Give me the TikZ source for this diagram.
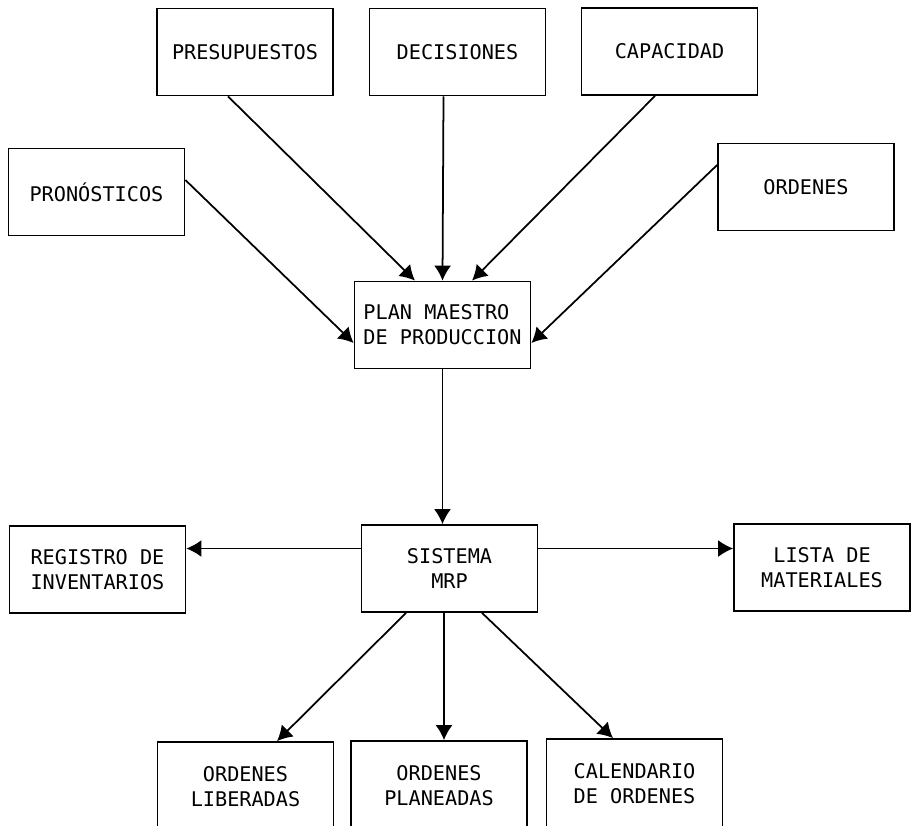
\documentclass[tikz,border=0pt]{standalone}
\usepackage{fontspec}
\newfontfamily\boxfont{DejaVu Sans Mono}
\usepackage{tikz}
\usetikzlibrary{positioning}
\usetikzlibrary{arrows.meta}

\tikzset{
caja/.style={draw, line width=1pt, minimum width=3.52cm, minimum height=1.74cm, inner sep=0pt, align=center, font=\boxfont\fontsize{11.5}{14.2}\selectfont},
cajabaja/.style={caja, minimum height=1.8cm},
conn/.style={line width=1pt, -{Latex[length=0.3cm,width=0.34cm]}}
}

\begin{document}
\begin{tikzpicture}[scale=1]
\useasboundingbox (0,0) rectangle (18.22,-16.5);
\clip (0,0) rectangle (18.22,-16.5);

\node[caja] (pres) at (4.90,-1.04) {PRESUPUESTOS};
\node[caja] (dec) at (9.15,-1.04) {DECISIONES};
\node[caja] (cap) at (13.39,-1.03) {CAPACIDAD};
\node[caja] (pron) at (1.93,-3.84) {PRONÓSTICOS};
\node[caja] (ord) at (16.12,-3.74) {ORDENES};

\node[caja, align=left] (plan) at (8.85,-6.50) {PLAN MAESTRO\\DE PRODUCCION};

\node[caja] (sis) at (8.99,-11.37) {SISTEMA\\MRP};
\node[caja] (reg) at (1.95,-11.39) {REGISTRO DE\\INVENTARIOS};
\node[caja] (lis) at (16.44,-11.35) {LISTA DE\\MATERIALES};

\node[cajabaja] (lib) at (4.91,-15.74) {ORDENES\\LIBERADAS};
\node[cajabaja] (pla) at (8.78,-15.72) {ORDENES\\PLANEADAS};
\node[cajabaja] (cal) at (12.69,-15.68) {CALENDARIO\\DE ORDENES};

% entradas al plan maestro
\draw[conn] ([xshift=-0.34cm]pres.south) -- ([xshift=-0.55cm]plan.north);
\draw[conn] ([xshift=-0.28cm]dec.south) -- (plan.north);
\draw[conn] ([xshift=-0.29cm]cap.south) -- ([xshift=0.59cm]plan.north);
\draw[conn] ([yshift=0.24cm]pron.east) -- ([yshift=-0.36cm]plan.west);
\draw[conn] ([yshift=0.44cm]ord.west) -- ([yshift=-0.36cm]plan.east);

\draw[conn] (plan.south) -- (plan.south |- sis.north);

% salidas del MRP
\draw[conn] ([yshift=0.4cm]sis.west) coordinate (sw) -- (sw -| reg.east);
\draw[conn] ([yshift=0.4cm]sis.east) coordinate (se) -- (se -| lis.west);
\draw[conn] ([xshift=-0.87cm]sis.south) -- ([xshift=0.63cm]lib.north);
\draw[conn] ([xshift=-0.11cm]sis.south) coordinate (ss) -- (ss |- pla.north);
\draw[conn] ([xshift=0.65cm]sis.south) -- ([xshift=-0.43cm]cal.north);

\end{tikzpicture}
\end{document}
